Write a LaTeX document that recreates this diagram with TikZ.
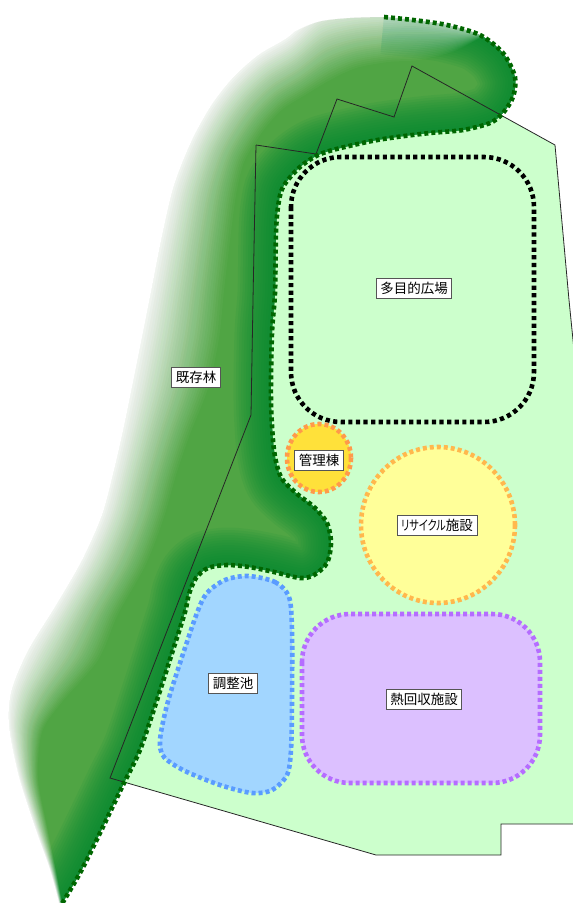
\documentclass[tikz,border=0pt]{standalone}
\usepackage{graphicx}
\usepackage{fontspec}
\newfontfamily\jpfont{Noto Sans CJK JP}
\newfontfamily\jpprop[RawFeature=+palt]{Noto Sans CJK JP}
\usetikzlibrary{calc}

\definecolor{sitegreen}{HTML}{CCFFCC}
\definecolor{forestbase}{HTML}{50A544}
\definecolor{forestdark}{HTML}{058A32}
\definecolor{forestline}{HTML}{006600}
\definecolor{officefill}{HTML}{FFE13A}
\definecolor{officeline}{HTML}{FF9A4A}
\definecolor{recyclefill}{HTML}{FFFF99}
\definecolor{recycleline}{HTML}{FFB84D}
\definecolor{pondfill}{HTML}{A2D6FF}
\definecolor{pondline}{HTML}{5A9CFF}
\definecolor{heatfill}{HTML}{DCC0FF}
\definecolor{heatline}{HTML}{B56DFF}
\definecolor{labelframe}{HTML}{555555}

\tikzset{
  zone/.style={line width=4.6pt, dash pattern=on 4pt off 3pt},
  sitebound/.style={draw=black!85, line width=0.8pt, line join=miter},
  tag/.style={draw=labelframe, fill=white, line width=0.8pt,
    inner xsep=4pt, inner ysep=2pt, minimum height=20pt,
    font=\jpfont\fontsize{13.5pt}{14pt}\selectfont},
}

% inner (dotted) edge of the forest, top to bottom
\def\forestinner{plot[smooth] coordinates {(D1) (D2) (D3) (D4) (D5) (D6) (D7)
  (D8) (D9) (D10) (D11) (D12) (D13) (D14) (D15) (D16) (D17) (D18) (D19) (D20)
  (D21) (D22) (D23) (D24) (D25) (D26) (D27) (D28) (D29) (D30) (D31) (D32)
  (D33) (D34) (D35) (D36) (D37) (D38) (D39) (D40) (D41) (D42) (D43) (D44)}}
% whole forest: dotted edge down, outer edge back up
\def\forestpath{plot[smooth] coordinates {(D1) (D2) (D3) (D4) (D5) (D6) (D7)
  (D8) (D9) (D10) (D11) (D12) (D13) (D14) (D15) (D16) (D17) (D18) (D19) (D20)
  (D21) (D22) (D23) (D24) (D25) (D26) (D27) (D28) (D29) (D30) (D31) (D32)
  (D33) (D34) (D35) (D36) (D37) (D38) (D39) (D40) (D41) (D42) (D43) (D44)}
  -- plot[smooth] coordinates {(F28) (F27) (F26) (F25) (F24) (F23) (F22)
  (F21) (F20) (F19) (F18) (F17) (F16) (F15) (F14) (F13) (F12) (F11) (F10)
  (F9) (F8) (F7) (F6) (F5) (F4)} -- cycle}

\begin{document}
\begin{tikzpicture}[x=1pt,y=-1pt]
\useasboundingbox (0,0) rectangle (573,903);
\clip (0,0) rectangle (573,903);

% dotted forest edge
\foreach \n/\x/\y in {1/384/17, 2/413/20, 3/447/25, 4/480/35, 5/503/53,
  6/515/77, 7/513/97, 8/503/113, 9/490/123, 10/463/130, 11/430/133,
  12/397/137, 13/367/142, 14/323/153, 15/300/167, 16/283/187, 17/278/207,
  18/276/233, 19/275/293, 20/272/333, 21/271/400, 22/274/450, 23/281/477,
  24/296/493, 25/314/507, 26/327/523, 27/331/543, 28/327/563, 29/314/575,
  30/300/578, 31/274/572, 32/249/567, 33/227/565, 34/208/568, 35/196/578,
  36/189/594, 37/185/612, 38/173/650, 39/157/700, 40/140/750, 41/123/785,
  42/100/833, 43/80/873, 44/60/907}{
  \coordinate (D\n) at (\x,\y);
}
% outer edge: F the drawn edge, O where the fade is fully white,
% I where the forest reaches full colour, E a little beyond O
\foreach \n/\fx/\fy/\ox/\oy/\ix/\iy in {
  1/480/30/480/30/480/38, 2/450/12/450/12/452/52, 3/415/0/415/0/418/60,
  4/384/17/384/0/388/62, 5/350/18/350/2/356/68, 6/318/22/318/8/330/80,
  7/288/35/288/35/305/95, 8/258/53/258/53/284/108, 9/232/76/232/76/270/122,
  10/210/104/210/104/258/138, 11/190/140/190/140/244/162,
  12/172/185/172/185/236/195, 13/160/235/160/235/230/240,
  14/150/285/150/285/224/290, 15/140/335/140/335/219/338,
  16/130/385/130/385/208/388, 17/121/430/121/430/190/434,
  18/112/470/112/470/176/475, 19/100/515/100/515/163/520,
  20/80/560/80/560/145/566, 21/54/605/54/605/118/614,
  22/26/650/26/650/98/660, 23/10/690/10/690/62/702,
  24/8/725/8/725/42/732, 25/18/775/18/775/38/778,
  26/34/825/34/825/47/826, 27/50/870/50/870/56/870,
  28/60/907/60/907/63/907}{
  \coordinate (F\n) at (\fx,\fy);
  \coordinate (O\n) at (\ox,\oy);
  \coordinate (I\n) at (\ix,\iy);
  \coordinate (E\n) at ($(O\n)!-0.2!(I\n)$);
}

% site area
\fill[sitegreen] (256,145) -- (316,154) -- (337,99) -- (394,117) -- (412,66)
  -- (555,145) -- (569,300) -- (577,380) -- (577,824) -- (501,824) -- (501,855)
  -- (376,855) -- (110,778) -- (179,600) -- (251,415) -- (253,300) -- cycle;

% existing forest: base colour, darker band along the dotted edge
\fill[forestbase] \forestpath;
\begin{scope}
  \clip \forestpath;
  \foreach \w in {5,10,...,75}
    \draw[forestdark, opacity=0.1, line width=\w pt] \forestinner;
\end{scope}

% soft fade of the outer edge into the white ground
\foreach \k in {1,...,32}{
  \pgfmathsetmacro\t{\k/32}
  \pgfmathsetmacro\a{1/\k}
  \foreach \n in {1,...,28}
    \coordinate (P\n) at ($(O\n)!\t!(I\n)$);
  \fill[white, opacity=\a] plot[smooth] coordinates {(E1) (E2) (E3) (E4) (E5)
    (E6) (E7) (E8) (E9) (E10) (E11) (E12) (E13) (E14) (E15) (E16) (E17) (E18)
    (E19) (E20) (E21) (E22) (E23) (E24) (E25) (E26) (E27) (E28)}
    -- plot[smooth] coordinates {(P28) (P27) (P26) (P25) (P24) (P23) (P22)
    (P21) (P20) (P19) (P18) (P17) (P16) (P15) (P14) (P13) (P12) (P11) (P10)
    (P9) (P8) (P7) (P6) (P5) (P4) (P3) (P2) (P1)} -- cycle;
}

% site boundary
\draw[sitebound] (256,145) -- (316,154) -- (337,99) -- (394,117) -- (412,66)
  -- (555,145) -- (569,300) -- (577,380);
\draw[sitebound] (577,824) -- (501,824) -- (501,855) -- (376,855) -- (110,778)
  -- (179,600) -- (251,415) -- (253,300) -- (256,145);

% dotted edge of the forest
\draw[zone, forestline] \forestinner;

% facilities
\draw[zone, black, dash pattern=on 4.2pt off 3.4pt,
  rounded corners=50pt] (291,157) rectangle (534,422);
\filldraw[zone, fill=officefill, draw=officeline] (319,458) ellipse [x radius=32, y radius=34];
\filldraw[zone, fill=recyclefill, draw=recycleline] (438,525) ellipse [x radius=77, y radius=78];
\filldraw[zone, fill=pondfill, draw=pondline] plot[smooth cycle] coordinates {
  (248,576) (275,582) (289,597) (292,630) (292,700) (291,750) (287,775)
  (272,790) (252,793) (220,785) (185,771) (164,757) (160,740) (167,705)
  (180,663) (197,613) (207,593) (225,580)};
\filldraw[zone, fill=heatfill, draw=heatline, rounded corners=48pt]
  (302,614) rectangle (540,783);

% labels
\node[tag] (forest)  at (196,377) {既存林};
\node[tag] (plaza)   at (414,288) {多目的広場};
\node[tag] (office)  at (319,460) {管理棟};
\node[tag, font=\jpprop\fontsize{13.5pt}{14pt}\selectfont] (recycle)
  at (437,525) {\scalebox{0.75}[1]{リサイクル}施設};
\node[tag] (pond)    at (233,683) {調整池};
\node[tag] (heat)    at (424,699) {熱回収施設};
\end{tikzpicture}
\end{document}
